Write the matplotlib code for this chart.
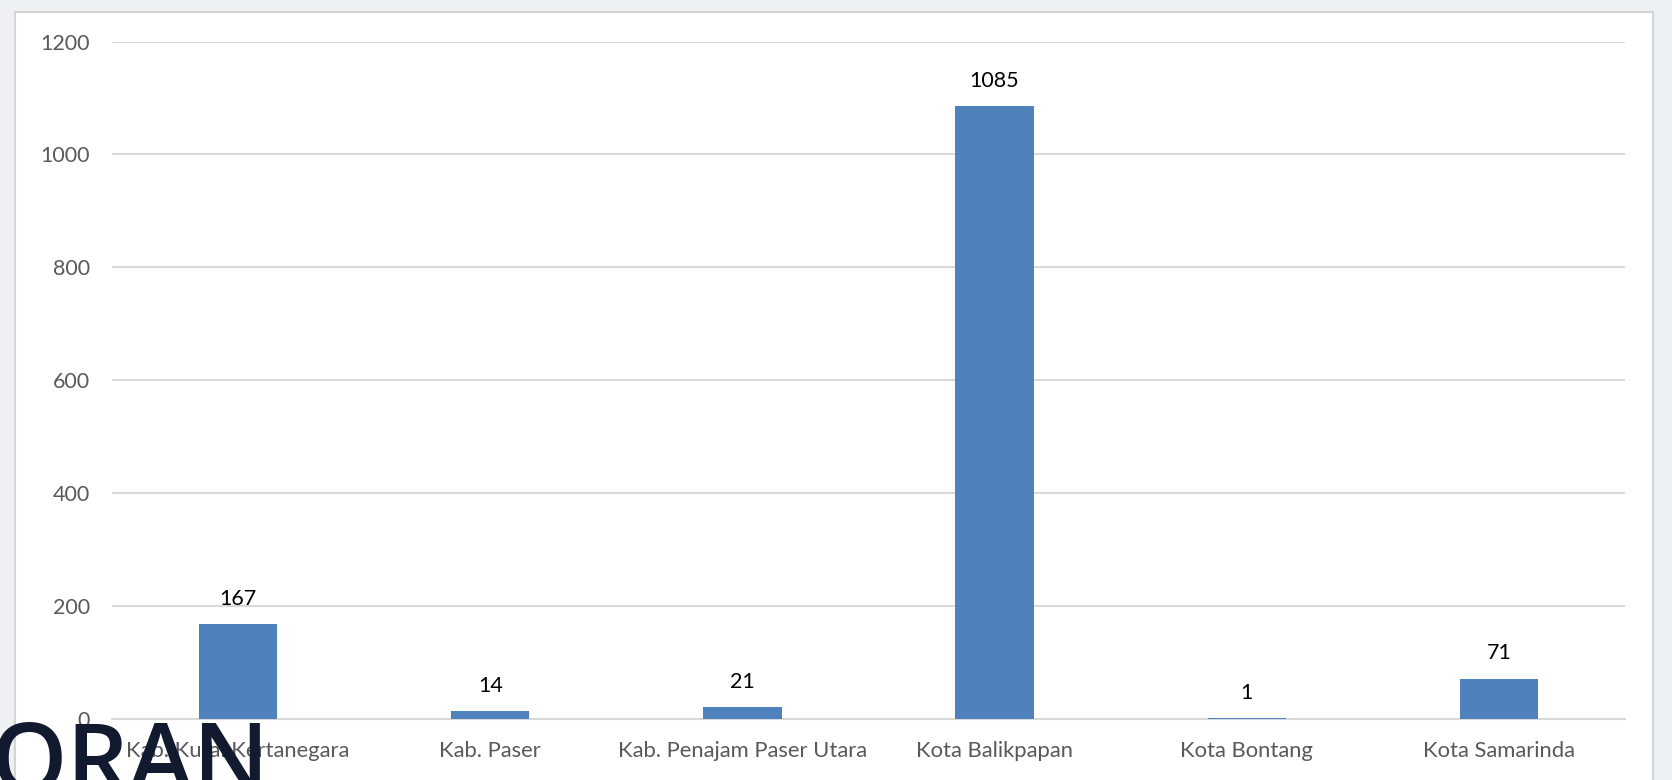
import matplotlib.pyplot as plt
from matplotlib.patches import Rectangle

# data
regions = ['Kab. Kutai Kertanegara', 'Kab. Paser', 'Kab. Penajam Paser Utara',
           'Kota Balikpapan', 'Kota Bontang', 'Kota Samarinda']
counts = [167, 14, 21, 1085, 1, 71]
y_ticks = [0, 200, 400, 600, 800, 1000, 1200]

BAR = '#4f81bd'
GRID = '#d9d9d9'
TXT = '#595959'

plt.rcParams['font.family'] = ['Lato', 'DejaVu Sans']

fig = plt.figure(figsize=(16.72, 7.8), dpi=100)
fig.patch.set_facecolor('#eef1f4')

# white chart card behind the plot
bg = fig.add_axes([0, 0, 1, 1], zorder=-1)
bg.set_xlim(0, 1672)
bg.set_ylim(780, 0)
bg.axis('off')
bg.add_patch(Rectangle((15, 12), 1653 - 15, 800, facecolor='white',
                       edgecolor='#d4d4d4', linewidth=1.5))

ax = fig.add_axes([112 / 1672, 1 - 718.7 / 780, (1625 - 112) / 1672, (718.7 - 41.6) / 780])
ax.set_facecolor('none')

x = range(len(regions))
ax.bar(x, counts, width=0.31, color=BAR, zorder=3)

for xi, v in zip(x, counts):
    ax.annotate(str(v), (xi, v), xytext=(0, 11), textcoords='offset points',
                ha='center', va='bottom', fontsize=15.5, color='black')

ax.set_xlim(-0.5, len(regions) - 0.5)
ax.set_ylim(0, 1200)
ax.set_yticks(y_ticks)
ax.set_xticks(list(x))
ax.set_xticklabels(regions)
ax.grid(axis='y', color=GRID, linewidth=1.5, zorder=0)
for s in ['top', 'right', 'left']:
    ax.spines[s].set_visible(False)
ax.spines['bottom'].set_color(GRID)
ax.spines['bottom'].set_linewidth(1.5)
ax.tick_params(axis='y', length=0, labelsize=15.5, colors=TXT, pad=16)
ax.tick_params(axis='x', length=0, labelsize=15.8, colors=TXT, pad=16)

# cropped slide title overlapping the bottom-left corner
fig.text(-10 / 1672, -0.045, 'ORAN', fontsize=70, color='#111a2e', fontweight='semibold',
         family=['Open Sans', 'DejaVu Sans'], ha='left', va='bottom', zorder=10)

fig.savefig('out.png', dpi=100, facecolor=fig.get_facecolor())
